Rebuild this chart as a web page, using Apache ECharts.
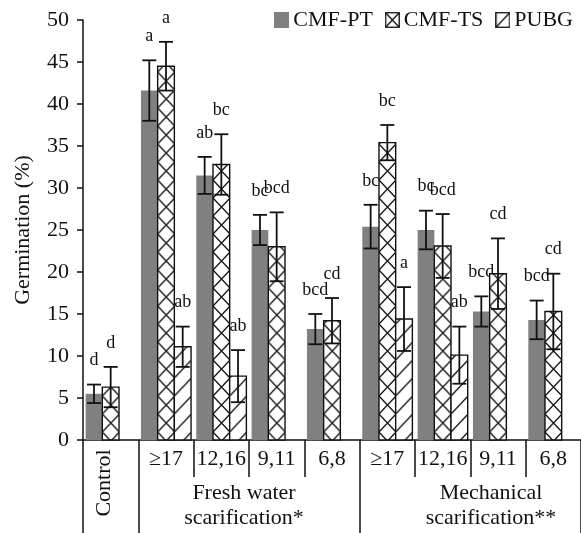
<!DOCTYPE html>
<html>
<head>
<meta charset="utf-8">
<script src="https://cdn.jsdelivr.net/npm/echarts@6/dist/echarts.min.js"></script>
<style>
  html, body { margin: 0; padding: 0; background: #fff; }
  #chart { width: 581px; height: 533px; }
</style>
</head>
<body>
<div id="chart"></div>
<script>
// Size classes of seeds (mm) within each scarification treatment
const categories = ['Control', '≥17', '12,16', '9,11', '6,8', '≥17', '12,16', '9,11', '6,8'];
const seriesNames = ['CMF-PT', 'CMF-TS', 'PUBG'];

// Mean germination (%) and standard error per medium
const ptValues   = [5.5, 41.6, 31.5, 25.0, 13.2, 25.4, 25.0, 15.3, 14.3];
const ptErrors   = [1.1, 3.6, 2.2, 1.8, 1.8, 2.6, 2.3, 1.8, 2.3];
const tsValues   = [6.3, 44.5, 32.8, 23.0, 14.2, 35.4, 23.1, 19.8, 15.3];
const tsErrors   = [2.4, 2.9, 3.6, 4.1, 2.7, 2.1, 3.8, 4.2, 4.5];
const pubgValues = [null, 11.1, 7.6, null, null, 14.4, 10.1, null, null];
const pubgErrors = [null, 2.4, 3.1, null, null, 3.8, 3.4, null, null];

// Significance letters
const ptLetters   = ['d', 'a', 'ab', 'bc', 'bcd', 'bc', 'bc', 'bcd', 'bcd'];
const tsLetters   = ['d', 'a', 'bc', 'bcd', 'cd', 'bc', 'bcd', 'cd', 'cd'];
const pubgLetters = [null, 'ab', 'ab', null, null, 'a', 'ab', null, null];

// Treatment groups spanning the size classes
const groupLabels = ['Fresh water\nscarification*', 'Mechanical\nscarification**'];
const yTicks = { min: 0, max: 50, step: 5 };

const FONT = '"Liberation Serif", "Times New Roman", serif';
const INK = '#111';
const GRAY = '#808080';

// Hatch tiles: crossed diagonals and single forward diagonals
function makeTile(kind) {
  const c = document.createElement('canvas');
  c.width = 17; c.height = 18;
  const g = c.getContext('2d');
  g.fillStyle = '#fff';
  g.fillRect(0, 0, c.width, c.height);
  g.strokeStyle = INK;
  g.lineWidth = 1.3;
  g.beginPath();
  g.moveTo(0, c.height); g.lineTo(c.width, 0);
  if (kind === 'cross') { g.moveTo(0, 0); g.lineTo(c.width, c.height); }
  g.stroke();
  return c;
}
const tiles = { cross: makeTile('cross'), diag: makeTile('diag') };

function makeIcon(kind) {
  const c = document.createElement('canvas');
  c.width = 15; c.height = 16;
  const g = c.getContext('2d');
  g.fillStyle = kind === 'solid' ? GRAY : '#fff';
  g.fillRect(0, 0, 15, 16);
  if (kind !== 'solid') {
    g.strokeStyle = INK; g.lineWidth = 1.3;
    g.beginPath();
    g.moveTo(1, 15); g.lineTo(14, 1);
    if (kind === 'cross') { g.moveTo(1, 1); g.lineTo(14, 15); }
    g.stroke();
    g.strokeRect(0.75, 0.75, 13.5, 14.5);
  }
  return 'image://' + c.toDataURL();
}

const seriesSpec = [
  { name: seriesNames[0], values: ptValues, errors: ptErrors, letters: ptLetters, fill: 'solid' },
  { name: seriesNames[1], values: tsValues, errors: tsErrors, letters: tsLetters, fill: 'cross' },
  { name: seriesNames[2], values: pubgValues, errors: pubgErrors, letters: pubgLetters, fill: 'diag' }
];
const GAP_RATIO = 0.095;

function buildSeries(spec, k) {
  const data = spec.values.map((v, i) => [i, v, spec.errors[i]]);
  return {
    type: 'custom',
    name: spec.name,
    xAxisIndex: 0,
    yAxisIndex: 0,
    itemStyle: { color: spec.fill === 'solid' ? GRAY : '#fff' },
    encode: { x: 0, y: 1 },
    data: data,
    renderItem: function (params, api) {
      const i = api.value(0);
      const v = api.value(1);
      if (v == null || isNaN(v)) return;
      const e = api.value(2);
      const band = api.size([1, 0])[0];
      const bw = band * (1 - GAP_RATIO) / 3;
      const base = api.coord([i, 0]);
      const topPt = api.coord([i, v]);
      const left = base[0] - 1.5 * bw + k * bw;
      const cx = left + bw / 2;
      const yTop = topPt[1];
      const yBase = base[1];
      const eHi = api.coord([i, v + e])[1];
      const eLo = api.coord([i, v - e])[1];
      const cap = 7;
      const fill = spec.fill === 'solid'
        ? GRAY
        : { image: tiles[spec.fill], repeat: 'repeat', x: left, y: 0 };
      const children = [
        {
          type: 'rect',
          shape: { x: left, y: yTop, width: bw, height: yBase - yTop },
          style: spec.fill === 'solid'
            ? { fill: fill }
            : { fill: fill, stroke: INK, lineWidth: 1.4 }
        },
        {
          type: 'polyline',
          shape: { points: [[cx, eHi], [cx, eLo]] },
          style: { stroke: INK, lineWidth: 1.8, fill: null }
        },
        {
          type: 'line',
          shape: { x1: cx - cap, y1: eHi, x2: cx + cap, y2: eHi },
          style: { stroke: INK, lineWidth: 1.8 }
        },
        {
          type: 'line',
          shape: { x1: cx - cap, y1: eLo, x2: cx + cap, y2: eLo },
          style: { stroke: INK, lineWidth: 1.8 }
        }
      ];
      const letter = spec.letters[i];
      if (letter) {
        children.push({
          type: 'text',
          style: {
            x: cx, y: eHi - 24, text: letter,
            font: '18px ' + FONT, fill: INK,
            align: 'center', verticalAlign: 'middle'
          }
        });
      }
      return { type: 'group', children: children };
    }
  };
}

const chart = echarts.init(document.getElementById('chart'), null, { renderer: 'canvas' });

const option = {
  animation: false,
  backgroundColor: '#fff',
  textStyle: { fontFamily: FONT },
  grid: { left: 83, right: 0, top: 20, bottom: 93, containLabel: false },
  legend: {
    right: 3, top: 4,
    itemWidth: 15, itemHeight: 16, itemGap: 12,
    textStyle: { fontFamily: FONT, fontSize: 22, color: INK, padding: [0, 0, 0, -1] },
    data: [
      { name: seriesNames[0], icon: makeIcon('solid') },
      { name: seriesNames[1], icon: makeIcon('cross') },
      { name: seriesNames[2], icon: makeIcon('diag') }
    ]
  },
  xAxis: [
    {
      type: 'category',
      data: categories,
      position: 'bottom',
      axisLine: { show: true, lineStyle: { color: INK, width: 1.5 } },
      axisTick: { show: true, length: 37, interval: 0, lineStyle: { color: INK, width: 1.5 } },
      axisLabel: {
        interval: 0, margin: 8, fontSize: 22, color: INK, fontFamily: FONT,
        formatter: (v, idx) => (idx === 0 ? '' : v)
      },
      splitLine: { show: false }
    },
    {
      type: 'category',
      data: categories,
      position: 'bottom',
      axisLine: { show: false },
      axisTick: {
        show: true, length: 93,
        interval: (idx) => idx === 0 || idx === 1 || idx === 5,
        lineStyle: { color: INK, width: 1.5 }
      },
      axisLabel: { show: false },
      splitLine: { show: false }
    }
  ],
  yAxis: {
    type: 'value',
    min: yTicks.min, max: yTicks.max, interval: yTicks.step,
    name: 'Germination (%)',
    nameLocation: 'middle',
    nameGap: 49,
    nameTextStyle: { fontFamily: FONT, fontSize: 22, color: INK },
    axisLine: { show: true, lineStyle: { color: INK, width: 1.5 } },
    axisTick: { show: true, length: 6, lineStyle: { color: INK, width: 1.5 } },
    axisLabel: { fontSize: 22, color: INK, fontFamily: FONT, margin: 14 },
    splitLine: { show: false }
  },
  series: seriesSpec.map(buildSeries)
};

chart.setOption(option);

// Treatment labels under the size classes, placed from the category scale
const cx = (i) => chart.convertToPixel({ xAxisIndex: 0 }, i);
const band = cx(1) - cx(0);
const yPix = (v) => chart.convertToPixel({ yAxisIndex: 0 }, v);
const axisY = yPix(0);
chart.setOption({
  graphic: [
    {
      type: 'text',
      x: cx(0) - 6, y: axisY + 43,
      rotation: Math.PI / 2,
      style: {
        text: categories[0], font: '22px ' + FONT, fill: INK,
        align: 'center', verticalAlign: 'middle'
      }
    },
    {
      type: 'text',
      x: cx(2) + band / 2 - 5, y: axisY + 66,
      style: {
        text: groupLabels[0], font: '22px ' + FONT, fill: INK,
        align: 'center', verticalAlign: 'middle', lineHeight: 25
      }
    },
    {
      type: 'text',
      x: cx(7) - 7, y: axisY + 66,
      style: {
        text: groupLabels[1], font: '22px ' + FONT, fill: INK,
        align: 'center', verticalAlign: 'middle', lineHeight: 25
      }
    }
  ]
});
</script>
</body>
</html>
